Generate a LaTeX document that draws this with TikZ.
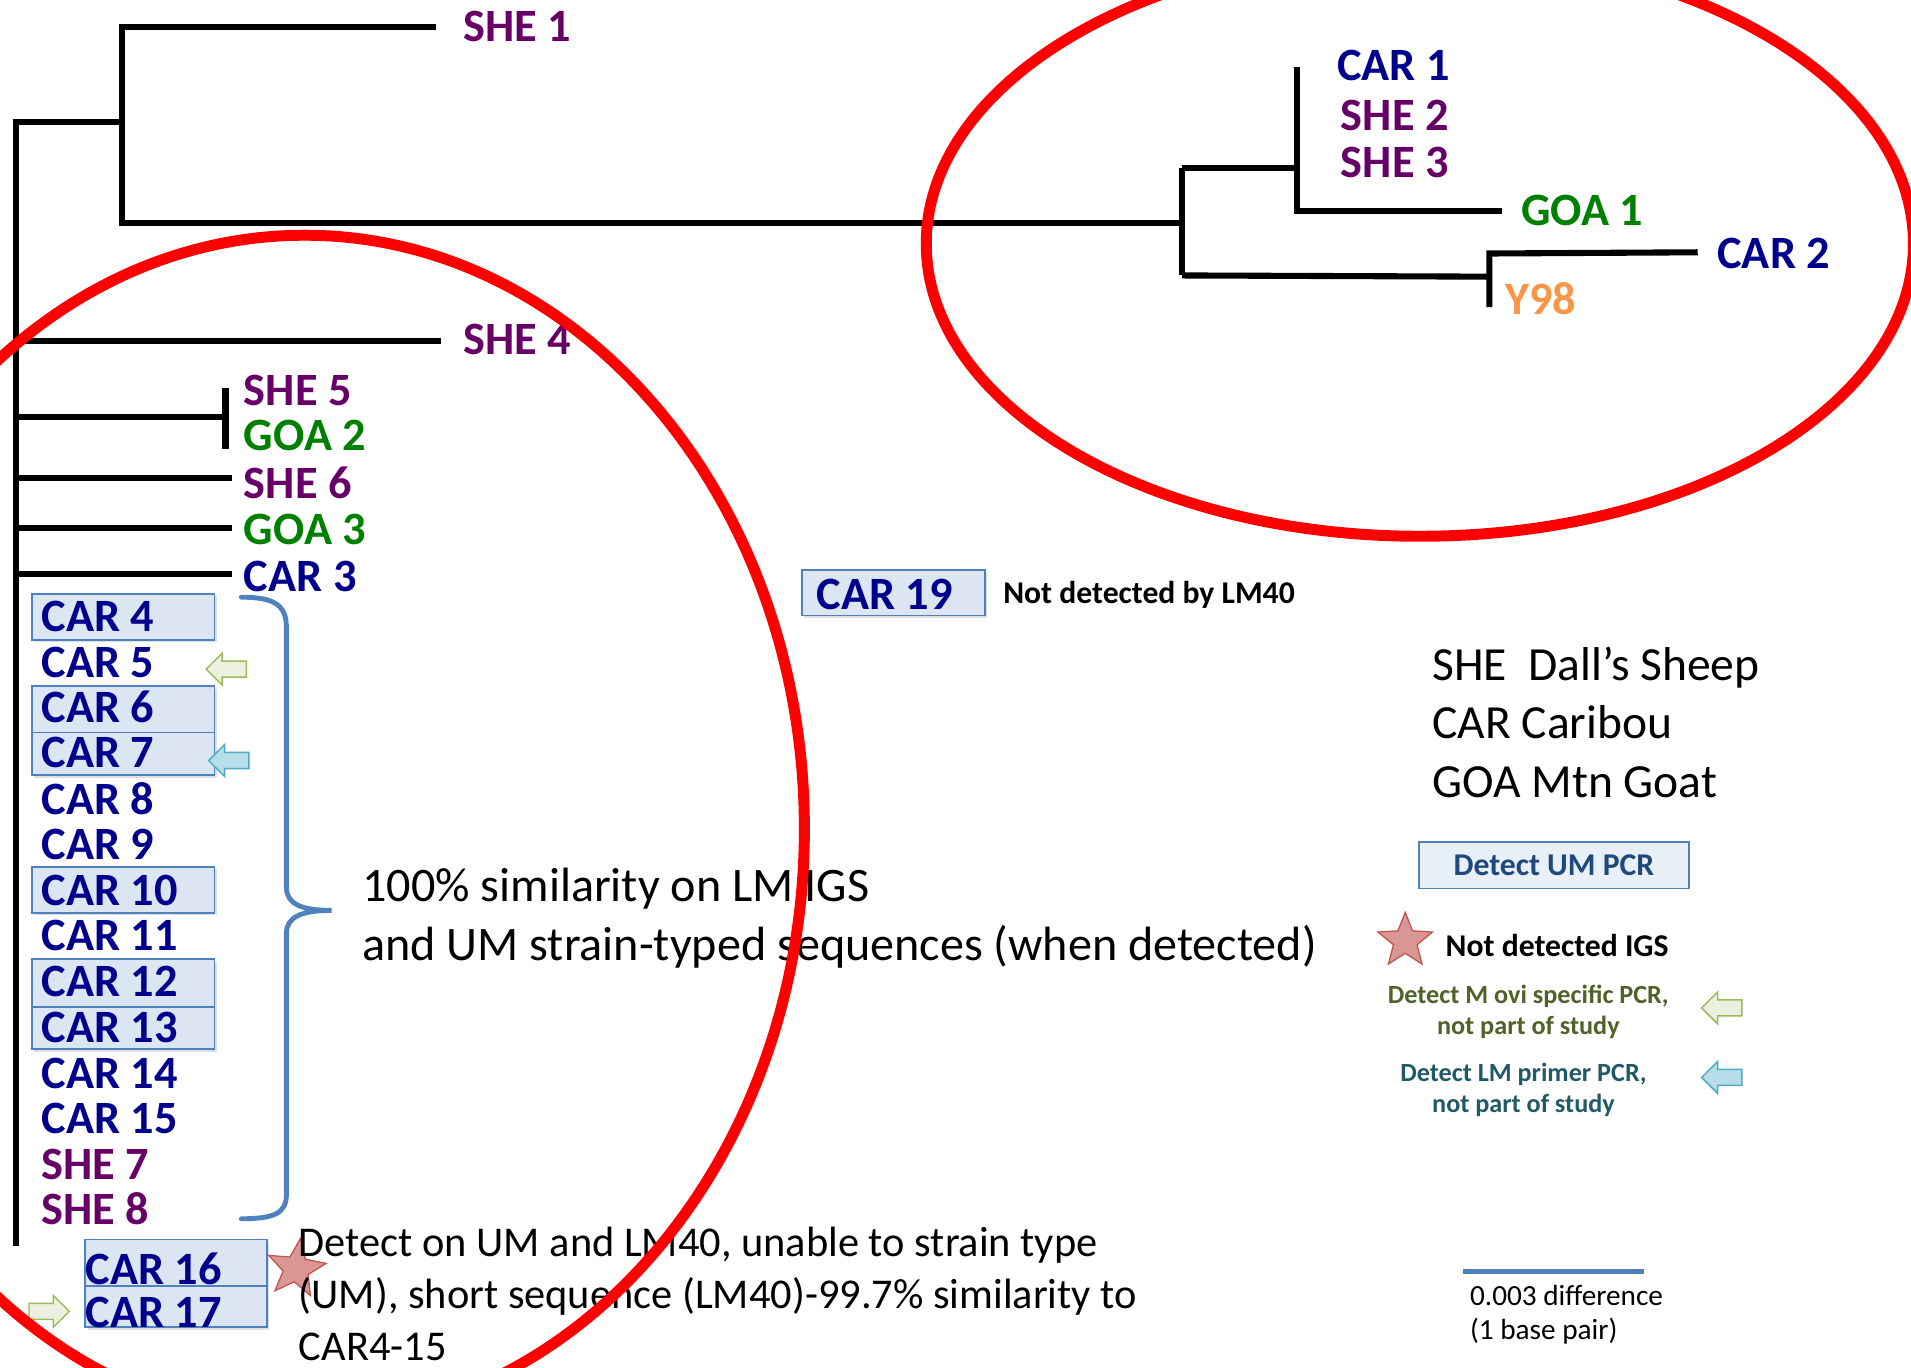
\documentclass[tikz,border=0pt]{standalone}
\usepackage{fontspec}
\setmainfont{Carlito}
\usetikzlibrary{shapes.geometric,shapes.arrows,shadows}
\definecolor{she}{HTML}{660066}
\definecolor{goa}{HTML}{008000}
\definecolor{car}{HTML}{00008C}
\definecolor{yor}{HTML}{F79646}
\definecolor{boxfill}{HTML}{DCE6F2}
\definecolor{boxline}{HTML}{4F81BD}
\definecolor{umfill}{HTML}{E9EFF7}
\definecolor{umtext}{HTML}{1F497D}
\definecolor{gafill}{HTML}{EBF1DE}
\definecolor{galine}{HTML}{9BBB59}
\definecolor{bafill}{HTML}{B7DEE8}
\definecolor{baline}{HTML}{4BACC6}
\definecolor{starfill}{HTML}{D99694}
\definecolor{starline}{HTML}{C0504D}
\definecolor{legolive}{HTML}{4F6228}
\definecolor{legteal}{HTML}{215968}
\tikzset{
  branch/.style={line width=5pt, line join=miter, draw=black},
  lab/.style={anchor=base west, inner sep=0pt, font=\fontsize{38}{40}\selectfont\bfseries},
  plain/.style={anchor=base west, inner sep=0pt},
  cbox/.style={draw=boxline, fill=boxfill, line width=1.6pt, minimum width=150pt, inner sep=0pt,
     drop shadow={shadow xshift=2pt, shadow yshift=-2pt, opacity=0.25, fill=gray}},
  blockarrow/.style={single arrow, line width=1.2pt, minimum height=33pt, inner xsep=0pt, inner ysep=6pt,
     single arrow head extend=6.5pt, single arrow head indent=0pt},
  greenarrow/.style={blockarrow, draw=galine, fill=gafill},
  bluearrow/.style={blockarrow, draw=baline, fill=bafill},
  redstar/.style={star, star points=5, star point ratio=2.3, draw=starline, fill=starfill, line width=1pt, inner sep=0pt},
  redring/.style={draw=red, line width=9pt}
}
\begin{document}
\begin{tikzpicture}[x=1pt,y=-1pt]
\path[use as bounding box] (0,0) rectangle (1568,1122);
\fill[white] (0,0) rectangle (1568,1122);
\clip (0,0) rectangle (1568,1122);

% ---------- tree coordinates ----------
\coordinate (she1tip) at (358,22);
\coordinate (n1top) at (100,22);
\coordinate (n1) at (100,100);
\coordinate (n1bot) at (100,183);
\coordinate (rtop) at (13,100);
\coordinate (rbot) at (13,1022);
\coordinate (n2) at (970,183);
\coordinate (n2top) at (970,138);
\coordinate (n2bot) at (970,226);
\coordinate (n3) at (1064,138);
\coordinate (n3top) at (1064,55);
\coordinate (n3bot) at (1064,173);
\coordinate (goa1tip) at (1232,173);
\coordinate (n4) at (1222,227);
\coordinate (n4top) at (1222,208);
\coordinate (n4bot) at (1222,252);
\coordinate (car2tip) at (1393,207);
\coordinate (she4a) at (13,280);
\coordinate (she4tip) at (362,280);
\coordinate (n5a) at (13,342);
\coordinate (n5) at (185,342);
\coordinate (n5top) at (185,318);
\coordinate (n5bot) at (185,368);
\coordinate (she6a) at (13,392);
\coordinate (she6tip) at (190,392);
\coordinate (goa3a) at (13,433);
\coordinate (goa3tip) at (190,433);
\coordinate (car3a) at (13,471);
\coordinate (car3tip) at (190,471);

% ---------- tree ----------
\draw[branch] (she1tip) -- (n1top) -- (n1bot) -- (n2);
\draw[branch] (n1) -- (rtop) -- (rbot);
\draw[branch] (n2top) -- (n2bot);
\draw[branch] (n2top) -- (n3);
\draw[branch] (n3top) -- (n3bot) -- (goa1tip);
\draw[branch] (n2bot) -- (n4);
\draw[branch] (n4bot) -- (n4top) -- (car2tip);
\draw[branch] (she4a) -- (she4tip);
\draw[branch] (n5a) -- (n5);
\draw[branch] (n5top) -- (n5bot);
\draw[branch] (she6a) -- (she6tip);
\draw[branch] (goa3a) -- (goa3tip);
\draw[branch] (car3a) -- (car3tip);

% ---------- boxes ----------
\node[cbox, minimum height=38pt] (b4) at (101,506) {};
\node[cbox, minimum height=38pt] (b6) at (101,582) {};
\node[cbox, minimum height=35pt] (b7) at (101,618.5) {};
\node[cbox, minimum height=38pt] (b10) at (101,730) {};
\node[cbox, minimum height=39pt] (b12) at (101,806.5) {};
\node[cbox, minimum height=35pt] (b13) at (101,843.5) {};
\node[cbox, minimum width=149pt, minimum height=38pt] (b16) at (144.5,1036) {};
\node[cbox, minimum width=149pt, minimum height=34pt] (b17) at (144.5,1072) {};
\node[cbox, minimum height=37pt] (b19) at (733,486.5) {};

% ---------- leaf labels ----------
\node[lab, text=she] (she1) at (380,34) {SHE 1};
\node[lab, text=car] (car1) at (1097,66) {CAR 1};
\node[lab, text=she] (she2) at (1100,107) {SHE 2};
\node[lab, text=she] (she3) at (1100,146) {SHE 3};
\node[lab, text=goa] (goa1) at (1248,185) {GOA 1};
\node[lab, text=car] (car2) at (1409,220) {CAR 2};
\node[lab, text=yor] (y98) at (1235,258) {Y98};
\node[lab, text=she] (she4) at (380,291) {SHE 4};
\node[lab, text=she] (she5) at (200,333) {SHE 5};
\node[lab, text=goa] (goa2) at (200,370) {GOA 2};
\node[lab, text=she] (she6) at (200,409) {SHE 6};
\node[lab, text=goa] (goa3) at (200,447) {GOA 3};
\node[lab, text=car] (car3) at (200,485) {CAR 3};
\node[lab, text=car] (car4) at (34,518) {CAR 4};
\node[lab, text=car] (car5) at (34,556) {CAR 5};
\node[lab, text=car] (car6) at (34,593) {CAR 6};
\node[lab, text=car] (car7) at (34,630) {CAR 7};
\node[lab, text=car] (car8) at (34,668) {CAR 8};
\node[lab, text=car] (car9) at (34,705) {CAR 9};
\node[lab, text=car] (car10) at (34,743) {CAR 10};
\node[lab, text=car] (car11) at (34,780) {CAR 11};
\node[lab, text=car] (car12) at (34,818) {CAR 12};
\node[lab, text=car] (car13) at (34,855) {CAR 13};
\node[lab, text=car] (car14) at (34,893) {CAR 14};
\node[lab, text=car] (car15) at (34,930) {CAR 15};
\node[lab, text=she] (she7) at (34,968) {SHE 7};
\node[lab, text=she] (she8) at (34,1005) {SHE 8};
\node[lab, text=car] (car16) at (70,1054) {CAR 16};
\node[lab, text=car] (car17) at (70,1089) {CAR 17};
\node[lab, text=car] (car19) at (670,500) {CAR 19};

% ---------- markers ----------
\node[greenarrow, shape border rotate=180] (ga5) at (189,549) {};
\node[bluearrow, shape border rotate=180] (ba7) at (191,624) {};
\node[greenarrow] (ga17) at (37,1076) {};
\node[redstar, minimum size=50pt, rotate=-8] (st16) at (243,1041) {};

% ---------- brace ----------
\draw[boxline, line width=4pt, line cap=round]
  (198,490) .. controls (226,490) and (235,497) .. (235,515) -- (235,728)
  .. controls (235,742) and (248,747) .. (272,747)
  .. controls (248,747) and (235,752) .. (235,766) -- (235,980)
  .. controls (235,995) and (226,1000) .. (198,1000);

% ---------- texts ----------
\node[plain, font=\fontsize{39.5}{48}\selectfont] (sim1) at (297,740) {100\% similarity on LM IGS};
\node[plain, font=\fontsize{39.5}{48}\selectfont] (sim2) at (297,788) {and UM strain-typed sequences (when detected)};
\node[plain, font=\fontsize{34.8}{42}\selectfont] (det1) at (245,1031) {Detect on UM and LM40, unable to strain type};
\node[plain, font=\fontsize{34.8}{42}\selectfont] (det2) at (245,1074) {(UM), short sequence (LM40)-99.7\% similarity to};
\node[plain, font=\fontsize{34.8}{42}\selectfont] (det3) at (245,1116) {CAR4-15};
\node[plain, font=\fontsize{26}{28}\selectfont\bfseries] (nd40) at (823,495) {Not detected by LM40};

% ---------- legend ----------
\node[plain, font=\fontsize{39}{48}\selectfont] (leg1) at (1175,558) {SHE\ \ Dall’s Sheep};
\node[plain, font=\fontsize{39}{48}\selectfont] (leg2) at (1175,606) {CAR Caribou};
\node[plain, font=\fontsize{39}{48}\selectfont] (leg3) at (1175,654) {GOA Mtn Goat};
\node[draw=boxline, fill=umfill, line width=1.6pt, minimum width=222pt, minimum height=38pt, inner sep=0pt,
      text=umtext, font=\fontsize{26}{28}\selectfont\bfseries] (um) at (1275,710) {Detect UM PCR};
\node[redstar, minimum size=47pt] (st2) at (1153,772) {};
\node[plain, font=\fontsize{26}{28}\selectfont\bfseries] (ndigs) at (1186,785) {Not detected IGS};
\node[anchor=base, inner sep=0pt, text=legolive, font=\fontsize{21.5}{26}\selectfont\bfseries] (movi1) at (1254,823) {Detect M ovi specific PCR,};
\node[anchor=base, inner sep=0pt, text=legolive, font=\fontsize{21.5}{26}\selectfont\bfseries] (movi2) at (1254,849) {not part of study};
\node[anchor=base, inner sep=0pt, text=legteal, font=\fontsize{21.5}{26}\selectfont\bfseries] (lmp1) at (1250,887) {Detect LM primer PCR,};
\node[anchor=base, inner sep=0pt, text=legteal, font=\fontsize{21.5}{26}\selectfont\bfseries] (lmp2) at (1250,913) {not part of study};
\node[greenarrow, shape border rotate=180] (ga2) at (1416,827) {};
\node[bluearrow, shape border rotate=180] (ba2) at (1416,884) {};
\coordinate (sbl) at (1200,1043);
\coordinate (sbr) at (1349,1043);
\draw[boxline, line width=4pt] (sbl) -- (sbr);
\node[plain, font=\fontsize{24}{28}\selectfont] (sc1) at (1206,1071) {0.003 difference};
\node[plain, font=\fontsize{24}{28}\selectfont] (sc2) at (1206,1099) {(1 base pair)};

% ---------- red rings ----------
\draw[redring] (1165,200) ellipse [x radius=405pt, y radius=240pt];
\draw[redring] (250,680) ellipse [x radius=410pt, y radius=487pt];
\end{tikzpicture}
\end{document}
